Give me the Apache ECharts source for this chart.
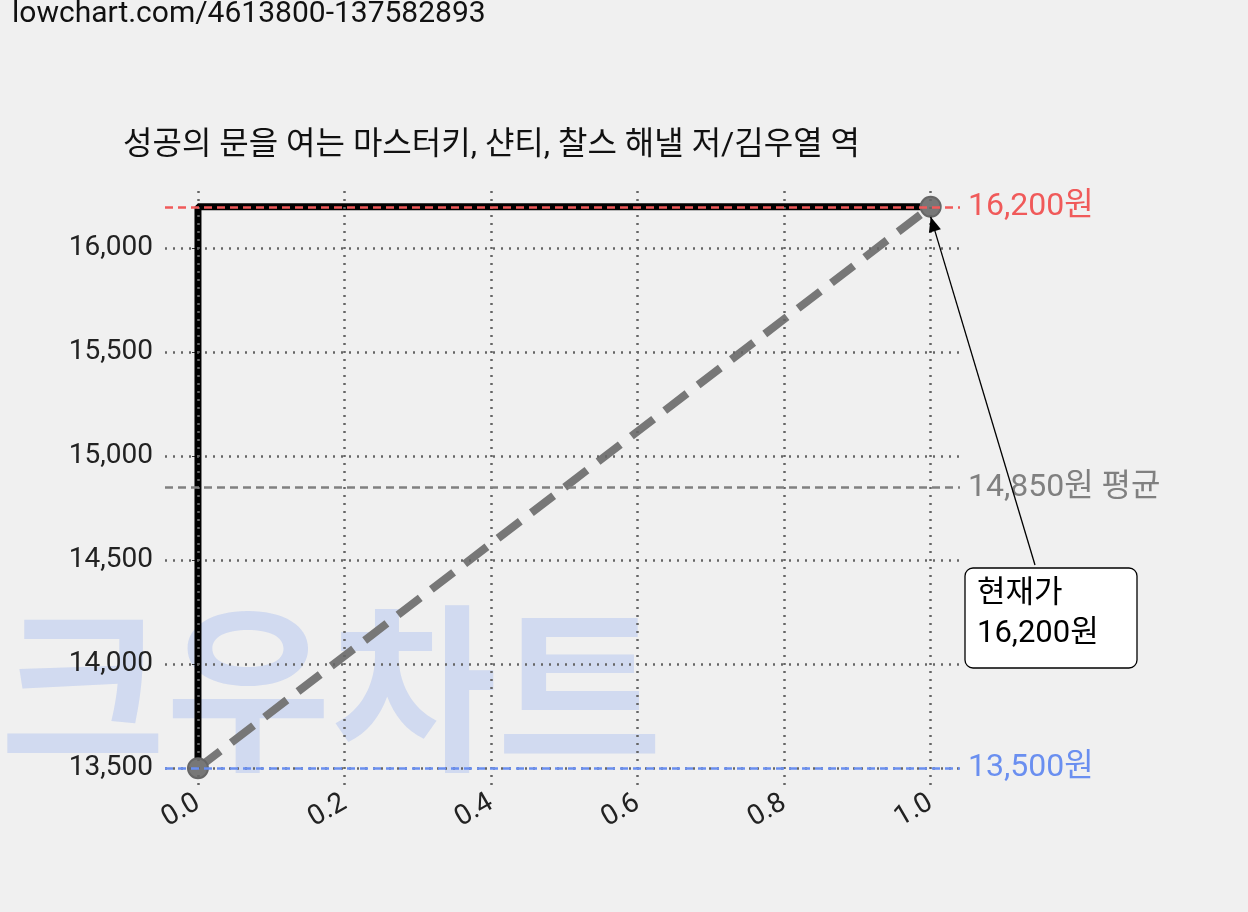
<!DOCTYPE html>
<html><head><meta charset="utf-8">
<script src="https://cdn.jsdelivr.net/npm/echarts@6/dist/echarts.min.js"></script>
<style>html,body{margin:0;background:#f0f0f0}#c{width:1248px;height:912px}</style>
</head><body><div id="c"></div>
<script>
const xTicks=[0,0.2,0.4,0.6,0.8,1.0];
const yTicks=[13500,14000,14500,15000,15500,16000];
const stepX=[0,0,1];
const stepY=[13500,16200,16200];
const trendX=[0,1];
const trendY=[13500,16200];
const highV=16200, avgV=14850, lowV=13500;
const title='성공의 문을 여는 마스터키, 샨티, 찰스 해낼 저/김우열 역';
const font='Roboto, "Noto Sans CJK KR", sans-serif';
const chart=echarts.init(document.getElementById('c'));
const fmt=v=>v.toLocaleString('en-US');
chart.setOption({
 backgroundColor:'#f0f0f0',animation:false,
 textStyle:{fontFamily:font},
 grid:{left:165,right:288,top:190,bottom:127},
 xAxis:{type:'value',min:-0.045,max:1.04,splitLine:{show:false},axisLine:{show:false},
  axisTick:{show:false},
  axisLabel:{customValues:xTicks,rotate:30,fontSize:28,color:'#222',formatter:v=>v.toFixed(1),margin:16}},
 yAxis:{type:'value',min:13419,max:16281,splitLine:{show:false},axisLine:{show:false},
  axisTick:{show:true,customValues:yTicks,length:6,lineStyle:{color:'#333'}},
  axisLabel:{customValues:yTicks,fontSize:28,color:'#222',formatter:fmt,margin:12}},
 series:[
  {type:'line',data:[],markLine:{silent:true,symbol:'none',label:{show:false},
    lineStyle:{type:[2,6],color:'#666',width:2.5},
    data:xTicks.map(v=>({xAxis:v})).concat(yTicks.map(v=>({yAxis:v})))}},
  {type:'line',data:stepX.map((x,i)=>[x,stepY[i]]),symbol:'none',lineStyle:{color:'#000',width:7},z:3,
   markLine:{silent:true,symbol:'none',lineStyle:{type:[8,5],width:2.5},
    label:{position:'end',fontSize:32,distance:8},
    data:[
     {yAxis:highV,lineStyle:{color:'#f05a5a'},label:{color:'#f05a5a',formatter:fmt(highV)+'원'}},
     {yAxis:avgV,lineStyle:{color:'#808080'},label:{color:'#808080',formatter:fmt(avgV)+'원 평균'}},
     {yAxis:lowV,lineStyle:{color:'#6a8ff0'},label:{color:'#6a8ff0',formatter:fmt(lowV)+'원'}}
    ]}},
  {type:'line',data:trendX.map((x,i)=>[x,trendY[i]]),symbol:'circle',symbolSize:20,z:4,
   itemStyle:{color:'#777',borderColor:'#666',borderWidth:2},lineStyle:{color:'#777',width:8,type:[28,14]}}
 ]
});
const p=chart.convertToPixel({gridIndex:0},[1,highV]);
const bx=965,by=568,bw=172,bh=100;
const tx=1035,ty=by-3;
const hx=p[0], hy=p[1]+10;
const ang=Math.atan2(ty-hy,tx-hx);
chart.setOption({graphic:[
 {type:'text',left:12,top:0,style:{text:'lowchart.com/4613800-137582893',fontSize:30,fill:'#111',fontFamily:font}},
 {type:'text',left:0,top:598,z:0,style:{text:'크우차트',fontSize:180,fontWeight:'bold',fill:'rgba(170,190,240,0.45)',fontFamily:'"Noto Sans CJK KR"'}},
 {type:'text',left:123,top:130,style:{text:title,fontSize:32,fill:'#111',fontFamily:font}},
 {type:'line',z:10,shape:{x1:tx,y1:ty,x2:hx,y2:hy},style:{stroke:'#000',lineWidth:1.3}},
 {type:'polygon',z:10,shape:{points:[[hx,hy],[hx+Math.cos(ang+0.4)*16,hy+Math.sin(ang+0.4)*16],[hx+Math.cos(ang-0.4)*16,hy+Math.sin(ang-0.4)*16]]},style:{fill:'#000'}},
 {type:'rect',z:10,shape:{x:bx,y:by,width:bw,height:bh,r:8},style:{fill:'#fff',stroke:'#000',lineWidth:1.3}},
 {type:'text',z:11,left:bx+12,top:by+6,style:{text:'현재가\n16,200원',fontSize:31,lineHeight:40,fill:'#000',fontFamily:font}}
]});
</script></body></html>
